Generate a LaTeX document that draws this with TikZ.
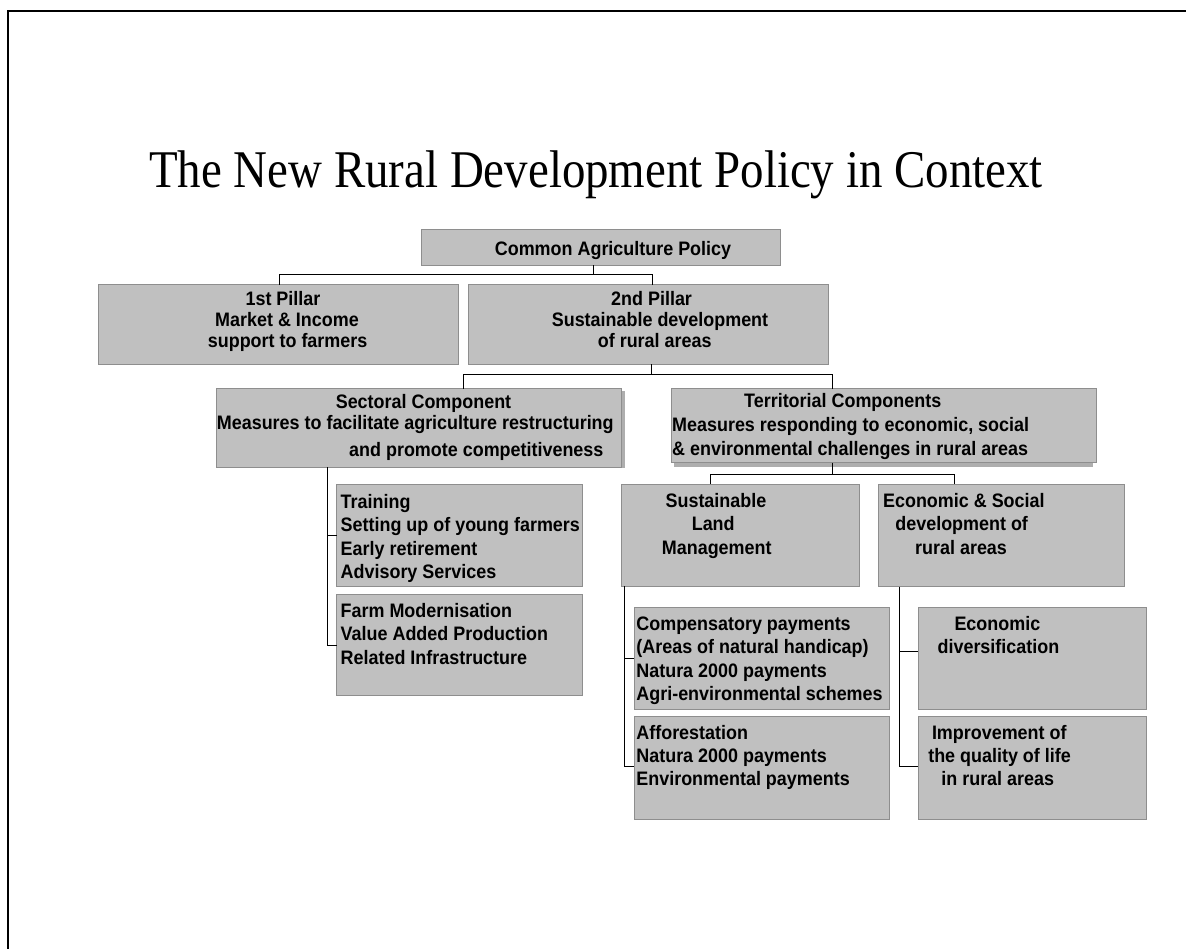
\documentclass[tikz,border=0pt]{standalone}
\usepackage{fontspec}
\setmainfont{Liberation Sans}[FakeStretch=0.92]
\newfontfamily\titlefont{Liberation Serif}[FakeStretch=0.885]
\definecolor{boxfill}{HTML}{C0C0C0}
\definecolor{boxline}{HTML}{8E8E8E}
\definecolor{shadowc}{HTML}{AEAEAE}
\tikzset{
  gbox/.style={draw=boxline, fill=boxfill, line width=1pt, inner sep=0pt, outer sep=0pt, anchor=north west},
  txt/.style={inner sep=0pt, font=\bfseries\fontsize{19.5}{22}\selectfont},
  lw/.style={txt, anchor=base west},
  lc/.style={txt, anchor=base},
  conn/.style={draw=black, line width=1pt},
}
\newcommand\gbox[5]{\node[gbox, minimum width={#4-#2}, minimum height={#5-#3}] (#1) at (#2,#3) {};}
\begin{document}
\begin{tikzpicture}[x=1pt,y=-1pt]
\useasboundingbox (0,0) rectangle (1186,949);
% frame
\draw[line width=2pt] (1186,11) -- (7.5,11) -- (7.5,949);
% title
\node[inner sep=0pt, anchor=base, font=\titlefont\fontsize{53}{56}\selectfont] (title) at (596,188) {The New Rural Development Policy in Context};

% boxes
\gbox{cap}{421.7}{230}{780}{265.5}
\gbox{p1}{98.6}{285}{458.9}{364.5}
\gbox{p2}{468.5}{285}{828}{364.5}
\fill[shadowc] (619,391) rectangle (625,467.5);
\gbox{sect}{216}{389}{621.7}{467}
\fill[shadowc] (674,392) rectangle (1093,467);
\gbox{terr}{671}{389}{1096}{462.7}
\gbox{train}{336.7}{484.7}{582}{586.7}
\gbox{farm}{336.7}{594}{582}{695.7}
\gbox{slm}{621.7}{484}{859.7}{586}
\gbox{esd}{878.4}{484.3}{1124}{586.7}
\gbox{comp}{634.4}{607.3}{889.6}{709}
\gbox{affor}{634.4}{716}{889.6}{819.3}
\gbox{ecodiv}{918.4}{607.3}{1146.3}{709}
\gbox{improve}{918.4}{716}{1146.3}{819.3}

% texts
\node[lc] (capt) at (613,256) {Common Agriculture Policy};
\node[lc] (p1a) at (283,306) {1st Pillar};
\node[lc] (p1b) at (287,327) {Market \& Income};
\node[lc] (p1c) at (287.6,348) {support to farmers};
\node[lc] (p2a) at (651.6,306) {2nd Pillar};
\node[lc] (p2b) at (660,327) {Sustainable development};
\node[lc] (p2c) at (654.7,348) {of rural areas};
\node[lc] (sa) at (423.5,409) {Sectoral Component};
\node[lw] (sb) at (216.7,429) {Measures to facilitate agriculture restructuring};
\node[lw] (sc) at (349,456) {and promote competitiveness};
\node[lw] (ta) at (744,408) {Territorial Components};
\node[lw] (tb) at (672,431.7) {Measures responding to economic, social};
\node[lw] (tc) at (672,455) {\& environmental challenges in rural areas};
\node[lw] (tr1) at (340.5,508.3) {Training};
\node[lw] (tr2) at (340.5,531.7) {Setting up of young farmers};
\node[lw] (tr3) at (340.5,555) {Early retirement};
\node[lw] (tr4) at (340.5,578.3) {Advisory Services};
\node[lw] (fa1) at (340.5,617.3) {Farm Modernisation};
\node[lw] (fa2) at (340.5,640.7) {Value Added Production};
\node[lw] (fa3) at (340.5,664) {Related Infrastructure};
\node[lw] (sl1) at (665.4,507.3) {Sustainable};
\node[lw] (sl2) at (691.6,530.7) {Land};
\node[lw] (sl3) at (661.7,554.3) {Management};
\node[lw] (es1) at (882.9,507.3) {Economic \& Social};
\node[lw] (es2) at (895.2,530.7) {development of};
\node[lw] (es3) at (915,554.3) {rural areas};
\node[lw] (co1) at (636.2,630.7) {Compensatory payments};
\node[lw] (co2) at (636.2,653.7) {(Areas of natural handicap)};
\node[lw] (co3) at (636.2,677) {Natura 2000 payments};
\node[lw] (co4) at (636.2,700) {Agri-environmental schemes};
\node[lw] (af1) at (636.2,739.3) {Afforestation};
\node[lw] (af2) at (636.2,762.3) {Natura 2000 payments};
\node[lw] (af3) at (636.2,785) {Environmental payments};
\node[lw] (ed1) at (954.3,630.7) {Economic};
\node[lw] (ed2) at (937.4,653.7) {diversification};
\node[lw] (im1) at (931.8,739.3) {Improvement of};
\node[lw] (im2) at (928.1,762.3) {the quality of life};
\node[lw] (im3) at (941.2,785) {in rural areas};

% junction coordinates
\coordinate (j1) at (593,275);
\coordinate (j1l) at (279.3,275);
\coordinate (j1r) at (652,275);
\coordinate (j2) at (651.7,374.5);
\coordinate (j2l) at (463,374.5);
\coordinate (j2r) at (832.4,374.5);
\coordinate (j3) at (832.4,474.3);
\coordinate (j3l) at (710,474.3);
\coordinate (j3r) at (954,474.3);
\coordinate (j4) at (327.7,467);
\coordinate (j4a) at (327.7,535);
\coordinate (j4b) at (327.7,645);
\coordinate (j5) at (624.7,586);
\coordinate (j5a) at (624.7,658.3);
\coordinate (j5b) at (624.7,766.7);
\coordinate (j6) at (899,586.7);
\coordinate (j6a) at (899,651);
\coordinate (j6b) at (899,766);

% connectors
\draw[conn] (cap.south -| j1) -- (j1);
\draw[conn] (p1.north -| j1l) -- (j1l) -- (j1r) -- (p2.north -| j1r);
\draw[conn] (p2.south -| j2) -- (j2);
\draw[conn] (sect.north -| j2l) -- (j2l) -- (j2r) -- (terr.north -| j2r);
\draw[conn] (terr.south -| j3) -- (j3);
\draw[conn] (slm.north -| j3l) -- (j3l) -- (j3r) -- (esd.north -| j3r);
\draw[conn] (sect.south -| j4) -- (j4b) -- (farm.west |- j4b);
\draw[conn] (j4a) -- (train.west |- j4a);
\draw[conn] (slm.south -| j5) -- (j5b) -- (affor.west |- j5b);
\draw[conn] (j5a) -- (comp.west |- j5a);
\draw[conn] (esd.south -| j6) -- (j6b) -- (improve.west |- j6b);
\draw[conn] (j6a) -- (ecodiv.west |- j6a);
\end{tikzpicture}
\end{document}
